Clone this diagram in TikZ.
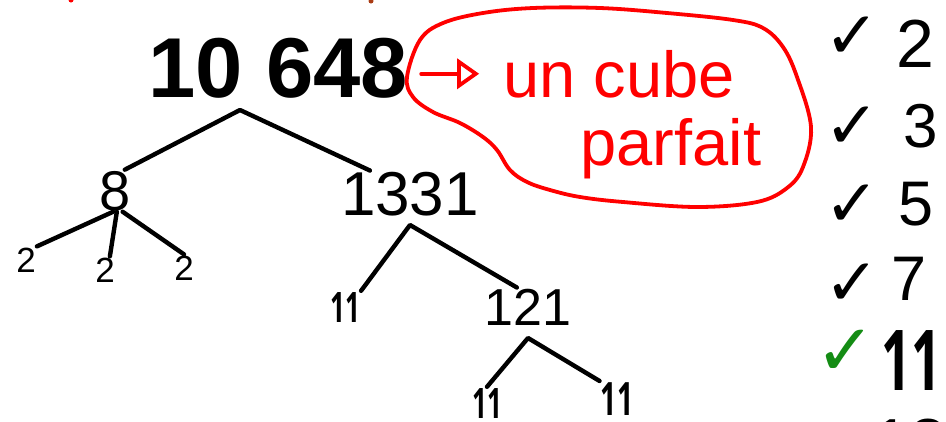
\documentclass[tikz,border=0pt]{standalone}
\usepackage{fontspec}
\setmainfont{Liberation Sans}
\newfontfamily\checkfont{DejaVu Sans}
\newfontfamily\penfont{Open Sans}
\usetikzlibrary{arrows.meta}

\definecolor{checkgreen}{RGB}{20,140,20}
\definecolor{inkbrown}{RGB}{170,60,20}
\newcommand{\sz}[1]{\fontsize{#1}{#1}\selectfont}
% two narrow ones
\newcommand{\ones}{{\penfont\bfseries\scalebox{.62}[1]{11}}}

\begin{document}
\begin{tikzpicture}[x=1pt, y=-1pt,
    num/.style={anchor=base, inner sep=1pt},
    branch/.style={line width=4.4pt, line cap=round, line join=round},
    redpen/.style={red, line width=3.8pt, line cap=round, line join=round},
    check/.style={inner sep=0pt, font=\checkfont\sz{66}}]

  \clip (0,0) rectangle (946,421);

  % bits of ink from the line above
  \fill[red] (71,0) circle (2.5);
  \fill[inkbrown] (371,1) circle (2.5);

  % the number and its factor tree
  \node[num, font=\bfseries\sz{85}] (cube) at (278,97) {10 648};

  \node[num, font=\sz{56}] (eight) at (115,210) {8};
  \node[num, font=\sz{35}] (twoA) at (26,272) {2};
  \node[num, font=\sz{35}] (twoB) at (105,282) {2};
  \node[num, font=\sz{35}] (twoC) at (184,280) {2};

  \node[num, font=\sz{62}] (c1331) at (410,215) {1331};
  \node[num, font=\sz{42}] (eleven) at (345,322) {\ones};
  \node[num, font=\sz{52}] (c121) at (528,325) {121};
  \node[num, font=\sz{42}] (elevenA) at (487,418) {\ones};
  \node[num, font=\sz{46}] (elevenB) at (617,415) {\ones};

  \coordinate (top) at (240,110);
  \coordinate (mid) at (410,225);
  \coordinate (low) at (528,338);

  \draw[branch] (eight.65) -- (top) -- (c1331.150);
  \draw[branch] (eight.-95) -- (twoA.north east);
  \draw[branch] (eight.-85) -- (twoB.70);
  \draw[branch] (eight.-70) -- (twoC.north);
  \draw[branch] (eleven.north east) -- (mid) -- (c121.120);
  \draw[branch] (elevenA.north) -- (low) -- (elevenB.north west);

  % red note
  \node[num, red, font=\sz{65}] (uncube) at (619,97) {un cube};
  \node[num, red, font=\sz{65}] (parfait) at (671,165) {parfait};

  \draw[redpen, shorten <=12pt, shorten >=23pt,
        -{Triangle[open, length=22pt, width=30pt]}]
    (cube.east |- uncube.west) -- (uncube.west);

  \draw[redpen] plot[smooth cycle, tension=0.6] coordinates {
    (407,77) (420,40) (443,23) (483,13) (533,8) (600,8) (667,13)
    (733,20) (763,28) (783,47) (797,77) (811,127) (803,167) (787,188)
    (757,202) (697,207) (623,202) (580,197) (550,190) (527,182)
    (510,170) (497,150) (483,137) (460,123) (433,112) (413,97)};

  % primes tried
  \foreach \p/\x/\y/\s in {2/915/67/68, 3/921/147/62, 5/916/225/63,
                           7/909/300/63, 13/910/466/68}
    \node[num, font=\sz{\s}] (p\p) at (\x,\y) {\p};
  \node[num, font=\sz{84}] (p11) at (911,390) {\ones};

  \foreach \i/\y in {1/38, 2/128, 3/206, 4/285}
    \node[check] (chk\i) at (852,\y) {✓};
  \node[check, checkgreen, font=\checkfont\sz{72}] (chk5) at (846,353) {✓};
\end{tikzpicture}
\end{document}
